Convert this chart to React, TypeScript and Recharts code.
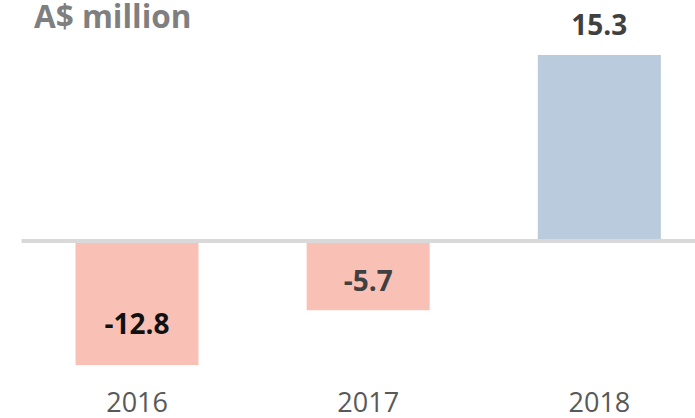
import React from 'react';
import { BarChart, Bar, XAxis, YAxis, Cell, LabelList, ReferenceLine } from 'recharts';

const years = ['2016', '2017', '2018'];
const values = [-12.8, -5.7, 15.3];
const labelColors = ['#111111', '#404040', '#404040'];
const title = 'A$ million';
const yDomain: [number, number] = [-10.2, 15.3];

const POS_COLOR = '#b9cbdd';
const NEG_COLOR = '#f9c1b6';
const FONT = '"Open Sans", sans-serif';

const data = years.map((year, i) => ({ year, value: values[i] }));

const ValueLabel = (props: any) => {
  const { x, y, width, height, value, index } = props;
  const cx = Number(x) + Number(width) / 2;
  const v = Number(value);
  const common = {
    textAnchor: 'middle' as const,
    fontFamily: FONT,
    fontWeight: 700,
    fontSize: 28,
    fill: labelColors[index] ?? '#404040',
  };
  if (v >= 0) {
    return (
      <text x={cx} y={Number(y) - 20} {...common}>
        {v.toFixed(1)}
      </text>
    );
  }
  const cy = Number(y) + Number(height) / 2;
  return (
    <text x={cx} y={cy + 15} {...common}>
      {v.toFixed(1)}
    </text>
  );
};

const YearTick = (props: any) => {
  const { x, y, payload } = props;
  return (
    <text x={x} y={Number(y) + 39} textAnchor="middle" fill="#595959" fontSize={27} fontFamily={FONT}>
      {payload.value}
    </text>
  );
};

export default function App() {
  return (
    <div style={{ position: 'absolute', left: 0, top: 0, width: 695, height: 418, overflow: 'hidden', background: '#fff' }}>
      <BarChart
        width={715}
        height={418}
        data={data}
        margin={{ top: 55, right: 0, bottom: 0, left: 21.5 }}
        barSize={123}
      >
        <XAxis dataKey="year" axisLine={false} tickLine={false} height={53} tick={<YearTick />} interval={0} />
        <YAxis hide domain={yDomain} allowDataOverflow />
        <Bar dataKey="value" isAnimationActive={false}>
          {data.map((d, i) => (
            <Cell key={i} fill={d.value >= 0 ? POS_COLOR : NEG_COLOR} />
          ))}
          <LabelList dataKey="value" content={<ValueLabel />} />
        </Bar>
        <ReferenceLine y={0} stroke="#d9d9d9" strokeWidth={4} ifOverflow="extendDomain" />
      </BarChart>
      <div
        style={{
          position: 'absolute',
          left: 34,
          top: 1,
          fontFamily: FONT,
          fontWeight: 700,
          fontSize: 31.5,
          lineHeight: '30px',
          color: '#7f7f7f',
          whiteSpace: 'nowrap',
        }}
      >
        {title}
      </div>
    </div>
  );
}
